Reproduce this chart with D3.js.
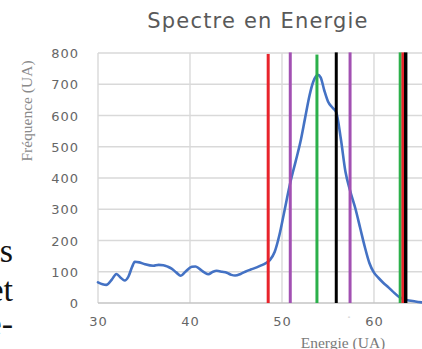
<!DOCTYPE html>
<html>
<head>
<meta charset="utf-8">
<script src="https://cdn.jsdelivr.net/npm/d3@7/dist/d3.min.js"></script>
<style>
html,body{margin:0;padding:0;background:#fff;}
svg{display:block;}
</style>
</head>
<body>
<div id="chart"></div>
<script>
// ---- data ----
const energy = [30.0,30.5,30.9,31.5,32.0,32.5,32.9,33.3,33.7,34.0,34.5,35.1,36.0,36.6,37.1,37.6,38.0,38.5,39.0,39.5,40.2,40.6,41.0,41.6,42.0,42.5,42.9,43.5,44.0,44.5,44.9,45.5,46.0,46.6,47.25,47.8,48.2,48.7,49.2,49.7,50.2,50.9,51.5,52.0,52.5,53.0,53.4,53.9,54.2,54.6,55.0,55.5,55.9,56.4,56.9,57.4,58.0,58.5,59.0,59.5,60.0,60.5,61.0,61.5,62.0,62.8,63.5,64.5,65.2];
const frequence = [66,60,58,75,93,80,72,84,115,132,130,124,119,122,121,116,110,98,87,100,116,117,110,97,92,100,103,100,97,90,88,93,100,107,114,121,127,138,163,215,285,385,455,515,590,665,708,730,722,680,645,625,610,525,420,360,300,240,180,128,97,80,65,52,38,18,10,5,2];
const markerEnergy = [48.5, 50.9, 53.8, 55.9, 57.4, 62.85, 63.15, 63.45];
const markerColor  = ["#e8232b","#a250b2","#2bb04a","#000000","#a250b2","#2bb04a","#e8232b","#000000"];
const markerTop    = [797, 802, 795, 802, 802, 802, 802, 802];
const xTicks = [30, 40, 50, 60];
const yTicks = [0, 100, 200, 300, 400, 500, 600, 700, 800];
const title = "Spectre en Energie";
const xTitle = "Energie (UA)";
const yTitle = "Fréquence (UA)";
const strayText = ["es", "et", "e-"];

// ---- layout ----
const W = 422, H = 349;
const svg = d3.select("#chart").append("svg").attr("width", W).attr("height", H);
const x = d3.scaleLinear().domain([30, 65.22]).range([98, 422]);
const y = d3.scaleLinear().domain([0, 800]).range([303, 53]);

// stray document text at left (cut by the left edge, as in the reference)
const strayY = [262, 301, 335];
svg.selectAll("text.stray").data(strayText).join("text")
  .attr("class","stray")
  .attr("x", 13).attr("y", (d,i)=>strayY[i])
  .attr("text-anchor","end")
  .attr("font-family","Liberation Serif, Times New Roman, serif")
  .attr("font-size", 34).attr("fill","#111")
  .text(d=>d);

// title
svg.append("text")
  .attr("x", 258).attr("y", 28)
  .attr("text-anchor","middle")
  .attr("font-family","DejaVu Sans, sans-serif")
  .attr("font-size", 21).attr("letter-spacing", 1.2)
  .attr("fill","#595959")
  .text(title);

// grid
const grid = svg.append("g");
grid.selectAll("line.h").data(yTicks.filter(d=>d>0)).join("line")
  .attr("x1", x(30)).attr("x2", W)
  .attr("y1", d=>y(d)).attr("y2", d=>y(d))
  .attr("stroke","#d9d9d9").attr("stroke-width",1.4);
grid.selectAll("line.v").data(xTicks).join("line")
  .attr("x1", d=>x(d)).attr("x2", d=>x(d))
  .attr("y1", y(800)).attr("y2", y(0))
  .attr("stroke","#d9d9d9").attr("stroke-width",1.4);
grid.append("line")
  .attr("x1", x(30)).attr("x2", W).attr("y1", y(0)).attr("y2", y(0))
  .attr("stroke","#c4c4c4").attr("stroke-width",1.5);

// axes labels via d3 axes
const yAxis = d3.axisLeft(y).tickValues(yTicks).tickSize(0).tickPadding(19);
const gy = svg.append("g").attr("transform", `translate(${x(30)},0)`).call(yAxis);
gy.select(".domain").remove();
gy.selectAll("text")
  .attr("font-family","DejaVu Sans, sans-serif").attr("font-size",13)
  .attr("letter-spacing",1).attr("fill","#666").attr("dy","0.35em");

const xAxis = d3.axisBottom(x).tickValues(xTicks).tickSize(0).tickPadding(14);
const gx = svg.append("g").attr("transform", `translate(0,${y(0)})`).call(xAxis);
gx.select(".domain").remove();
gx.selectAll("text")
  .attr("font-family","DejaVu Sans, sans-serif").attr("font-size",13)
  .attr("letter-spacing",1).attr("fill","#666");

// axis titles
svg.append("text")
  .attr("x", 343).attr("y", 348)
  .attr("text-anchor","middle")
  .attr("font-family","Liberation Serif, Times New Roman, serif")
  .attr("font-size", 15.5).attr("fill","#7a7a7a")
  .text(xTitle);
svg.append("text")
  .attr("transform", "translate(32,111) rotate(-90)")
  .attr("text-anchor","middle")
  .attr("font-family","Liberation Serif, Times New Roman, serif")
  .attr("font-size", 15.5).attr("fill","#8a8a8a")
  .text(yTitle);

// small stray dash under axis
svg.append("text")
  .attr("x", 349).attr("y", 319)
  .attr("text-anchor","middle")
  .attr("font-family","DejaVu Sans, sans-serif")
  .attr("font-size", 7).attr("fill","#999")
  .text("-");

// curve
const pts = energy.map((e,i)=>[e, frequence[i]]);
const line = d3.line().x(d=>x(d[0])).y(d=>y(d[1])).curve(d3.curveMonotoneX);
svg.append("path").datum(pts)
  .attr("d", line)
  .attr("fill","none").attr("stroke","#4472c4").attr("stroke-width",2.6)
  .attr("stroke-linejoin","round").attr("stroke-linecap","round");

// vertical marker lines
svg.selectAll("line.marker").data(markerEnergy).join("line")
  .attr("class","marker")
  .attr("x1", d=>x(d)).attr("x2", d=>x(d))
  .attr("y1", (d,i)=>y(markerTop[i])).attr("y2", y(0))
  .attr("stroke", (d,i)=>markerColor[i])
  .attr("stroke-width", (d,i)=> i===7 ? 3.4 : 3);
</script>
</body>
</html>
